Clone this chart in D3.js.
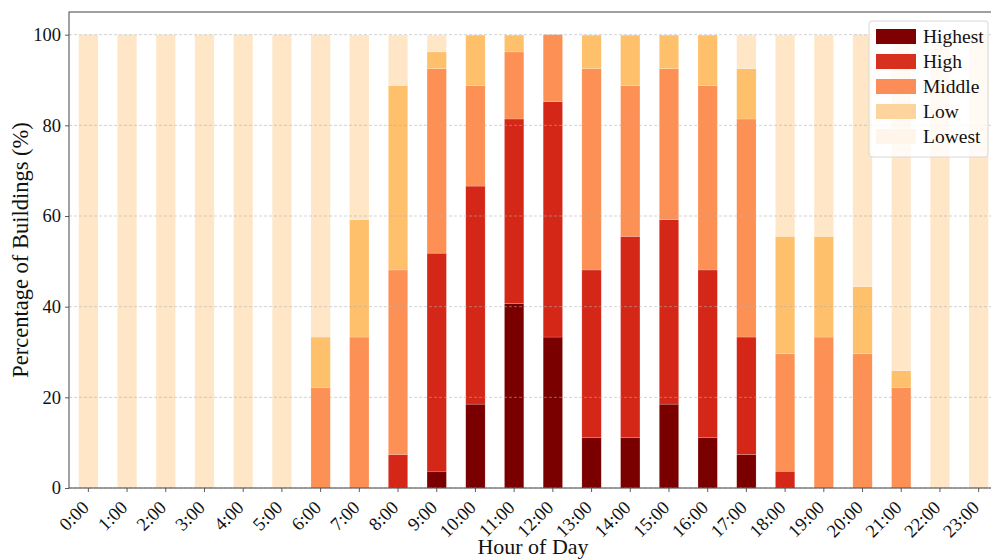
<!DOCTYPE html>
<html>
<head>
<meta charset="utf-8">
<script src="https://cdn.jsdelivr.net/npm/d3@7"></script>
<style>
  html, body { margin: 0; padding: 0; background: #fff; }
  svg { display: block; font-family: "Liberation Serif", "Times New Roman", serif; }
</style>
</head>
<body>
<svg id="chart" width="991" height="559"></svg>
<script>
// Hours of the day (x categories)
const hours = ["0:00","1:00","2:00","3:00","4:00","5:00","6:00","7:00","8:00","9:00","10:00","11:00",
               "12:00","13:00","14:00","15:00","16:00","17:00","18:00","19:00","20:00","21:00","22:00","23:00"];

// Share of buildings (%) in each level, per hour
const highest = [0,0,0,0,0,0,0,0,0,3.7,18.5,40.7,33.3,11.1,11.1,18.5,11.1,7.4,0,0,0,0,0,0];
const high    = [0,0,0,0,0,0,0,0,7.4,48.1,48.1,40.7,51.9,37.0,44.4,40.7,37.0,25.9,3.7,0,0,0,0,0];
const middle  = [0,0,0,0,0,0,22.2,33.3,40.7,40.7,22.2,14.8,14.8,44.4,33.3,33.3,40.7,48.1,25.9,33.3,29.6,22.2,0,0];
const low     = [0,0,0,0,0,0,11.1,25.9,40.7,3.7,11.1,3.7,0,7.4,11.1,7.4,11.1,11.1,25.9,22.2,14.8,3.7,0,0];
const lowest  = [100,100,100,100,100,100,66.7,40.7,11.1,3.7,0,0,0,0,0,0,0,7.4,44.4,44.4,55.6,74.1,100,100];

const levels = ["Highest","High","Middle","Low","Lowest"];
const seriesValues = [highest, high, middle, low, lowest];
const barColors    = ["#7a0000","#d42718","#fd9055","#fec06a","#fee6c6"];
const legendColors = ["#7f0000","#d7301f","#fc8d59","#fdd49e","#fff5eb"];
const yTicks = [0,20,40,60,80,100];

const svg = d3.select("#chart");
const margin = {left: 69, top: 12, bottom: 488};
const plotRight = 998;

const x = d3.scaleBand().domain(hours).range([margin.left, plotRight]).paddingInner(0.5).paddingOuter(0.25);
const y = d3.scaleLinear().domain([0, 105]).range([margin.bottom, margin.top]);

// Stack the levels bottom-up
const rows = hours.map((h, i) => {
  const r = {hour: h};
  levels.forEach((lv, k) => r[lv] = seriesValues[k][i]);
  return r;
});
const stacked = d3.stack().keys(levels)(rows);

const plot = svg.append("g");
plot.append("defs").append("clipPath").attr("id", "clip")
  .append("rect").attr("x", margin.left).attr("y", margin.top)
  .attr("width", plotRight - margin.left).attr("height", margin.bottom - margin.top);

const bars = plot.append("g").attr("clip-path", "url(#clip)");
stacked.forEach((layer, k) => {
  bars.append("g").attr("fill", barColors[k])
    .selectAll("rect").data(layer).join("rect")
    .attr("x", d => x(d.data.hour))
    .attr("width", x.bandwidth())
    .attr("y", d => y(d[1]))
    .attr("height", d => Math.max(0, y(d[0]) - y(d[1])))
    .attr("stroke", "#ffffff").attr("stroke-opacity", 0.35).attr("stroke-width", 0.5);
});

// Dashed horizontal grid drawn over the bars
plot.append("g").selectAll("line").data(yTicks).join("line")
  .attr("x1", margin.left).attr("x2", plotRight)
  .attr("y1", d => y(d)).attr("y2", d => y(d))
  .attr("stroke", "#b0b0b0").attr("stroke-opacity", 0.7)
  .attr("stroke-width", 0.8).attr("stroke-dasharray", "3,2");

// Axes
const yAxis = svg.append("g").attr("transform", `translate(${margin.left},0)`)
  .call(d3.axisLeft(y).tickValues(yTicks).tickSize(4).tickPadding(4));
yAxis.selectAll("text").attr("font-size", 18.5).attr("fill", "#111")
  .attr("font-family", "Liberation Serif, serif");

const xAxis = svg.append("g").attr("transform", `translate(0,${margin.bottom})`)
  .call(d3.axisBottom(x).tickSize(4).tickPadding(0));
xAxis.selectAll("text").attr("font-size", 18.5).attr("fill", "#111")
  .attr("font-family", "Liberation Serif, serif")
  .attr("x", 0).attr("y", 0)
  .attr("text-anchor", "end").attr("dy", "0.35em")
  .attr("transform", "translate(-3,16) rotate(-45)");

[yAxis, xAxis].forEach(a => {
  a.select(".domain").remove();
  a.selectAll(".tick line").attr("stroke", "#333").attr("stroke-width", 0.8);
});

// Frame of the plotting area
svg.append("rect").attr("x", margin.left).attr("y", margin.top)
  .attr("width", plotRight - margin.left).attr("height", margin.bottom - margin.top)
  .attr("fill", "none").attr("stroke", "#444").attr("stroke-width", 1);

// Axis titles
svg.append("text").attr("x", 533).attr("y", 554).attr("text-anchor", "middle")
  .attr("font-size", 22).attr("fill", "#111").text("Hour of Day");
svg.append("text").attr("transform", `translate(28,${(margin.top + margin.bottom) / 2}) rotate(-90)`)
  .attr("text-anchor", "middle").attr("font-size", 22.5).attr("fill", "#111")
  .text("Percentage of Buildings (%)");

// Legend
const lg = svg.append("g").attr("transform", "translate(869,21)");
lg.append("rect").attr("width", 119).attr("height", 136).attr("rx", 3)
  .attr("fill", "#fff").attr("fill-opacity", 0.8)
  .attr("stroke", "#d8d8d8").attr("stroke-width", 1);
levels.forEach((lv, k) => {
  const row = lg.append("g").attr("transform", `translate(7,${8 + k * 25})`);
  row.append("rect").attr("width", 40).attr("height", 15).attr("fill", legendColors[k]);
  row.append("text").attr("x", 47).attr("y", 14).attr("font-size", 19.5).attr("fill", "#111").text(lv);
});
</script>
</body>
</html>
